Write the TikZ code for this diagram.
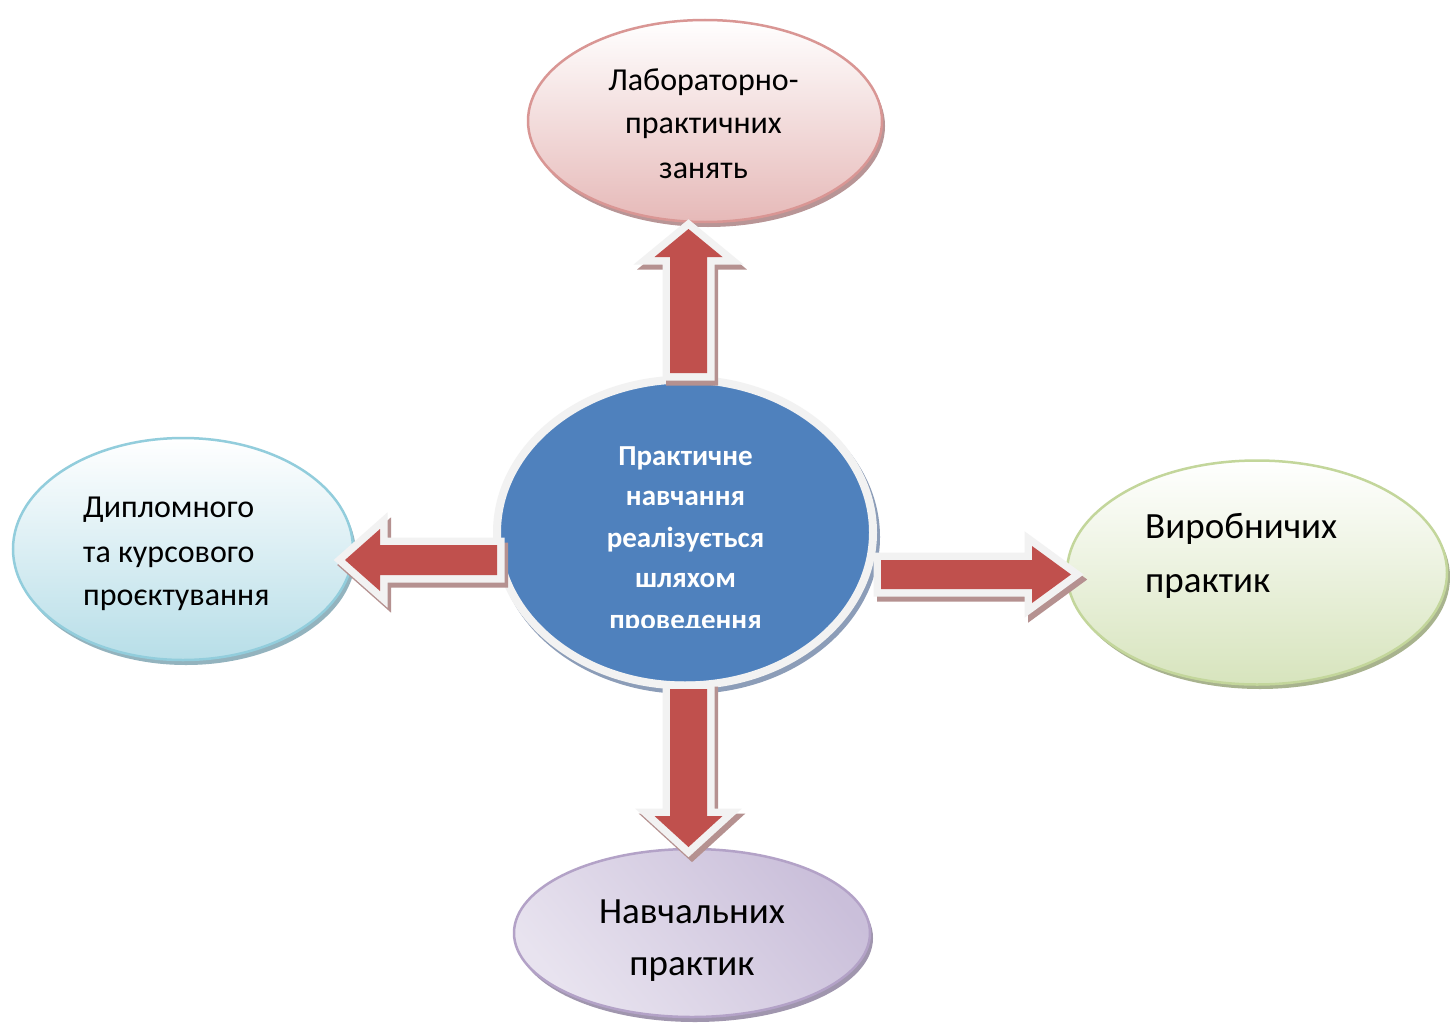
\documentclass[tikz,border=0pt]{standalone}
\usepackage{fontspec}
\setmainfont{Carlito}
\usetikzlibrary{calc,shapes.geometric}
\definecolor{arrred}{HTML}{C0504D}
\definecolor{arrwhite}{HTML}{F2F2F2}
\definecolor{arrshadow}{HTML}{B59190}
\definecolor{cblue}{HTML}{4F81BD}
\definecolor{cshadow}{HTML}{8C9DB8}
\definecolor{pinkline}{HTML}{D99694}
\definecolor{pinkfill}{HTML}{E6B9B8}
\definecolor{pinkshadow}{HTML}{B89596}
\definecolor{blueline}{HTML}{92CDDC}
\definecolor{bluefill}{HTML}{B7DEE8}
\definecolor{blueshadow}{HTML}{93B3BE}
\definecolor{greenline}{HTML}{C3D69B}
\definecolor{greenfill}{HTML}{D7E4BD}
\definecolor{greenshadow}{HTML}{A8B38E}
\definecolor{purpline}{HTML}{B3A2C7}
\definecolor{purpdark}{HTML}{CABFDA}
\definecolor{purplight}{HTML}{E8E3EF}
\definecolor{purpshadow}{HTML}{A096AE}
\tikzset{
  bub/.style={ellipse, inner sep=0pt, line width=2.5pt},
  arrshad/.style={draw=arrshadow, fill=arrshadow, line width=15pt, line join=miter},
  arrline/.style={draw=arrwhite, fill=arrwhite, line width=15pt, line join=miter},
  arrfill/.style={fill=arrred},
  txtA/.style={inner sep=0pt, font=\fontsize{32pt}{44pt}\selectfont},
  txtB/.style={inner sep=0pt, font=\fontsize{37pt}{52pt}\selectfont},
  txtC/.style={inner sep=0pt, text=white, font=\bfseries\fontsize{29pt}{40pt}\selectfont},
}
\newcommand\arrshape[5]{($(#1)!#3pt!90:(#2)$) -- ($(#1-h)!#3pt!90:(#2)$) -- ($(#1-h)!#4pt!90:(#2)$) -- (#2) -- ($(#1-h)!#4pt!-90:(#2)$) -- ($(#1-h)!#3pt!-90:(#2)$) -- ($(#1)!#3pt!-90:(#2)$) -- cycle}
\begin{document}
\begin{tikzpicture}[x=1pt,y=-1pt]
\useasboundingbox (0,0) rectangle (1450,1025);
\fill[white] (0,0) rectangle (1450,1025);

% shadows of bubbles
\fill[pinkshadow] (708,126) ellipse [x radius=177, y radius=101];
\fill[blueshadow] (186,554) ellipse [x radius=170, y radius=111];
\fill[greenshadow] (1260,577) ellipse [x radius=190, y radius=112];
\fill[purpshadow] (695,938) ellipse [x radius=178, y radius=84];
\fill[cshadow] (688,537) ellipse [x radius=192, y radius=157];

% bubbles
\node[bub, draw=pinkline, top color=white, bottom color=pinkfill,
      minimum width=354pt, minimum height=202pt] (lab) at (705,121) {};
\node[bub, draw=blueline, top color=white, bottom color=bluefill,
      minimum width=340pt, minimum height=222pt] (dip) at (183,549) {};
\node[bub, draw=greenline, top color=white, bottom color=greenfill,
      minimum width=380pt, minimum height=224pt] (vyr) at (1257,572.5) {};
\node[bub, draw=purpline, top color=purpdark, bottom color=purplight, shading angle=-50,
      minimum width=356pt, minimum height=168pt] (nav) at (692,933) {};
\node[ellipse, inner sep=0pt, line width=8pt, draw=arrwhite, fill=cblue,
      minimum width=376pt, minimum height=306pt] (ctr) at (685,532.5) {};

% texts
\node[txtA, anchor=base] (lab1) at (703.5,90) {Лабораторно-};
\node[txtA, anchor=base] (lab2) at (703.5,133) {практичних};
\node[txtA, anchor=base] (lab3) at (703.5,178) {занять};
\node[txtA, anchor=base west] (dip1) at (83,517) {Дипломного};
\node[txtA, anchor=base west] (dip2) at (83,562) {та курсового};
\node[txtA, anchor=base west] (dip3) at (83,605) {проєктування};
\node[txtB, anchor=base west] (vyr1) at (1145,538) {Виробничих};
\node[txtB, anchor=base west] (vyr2) at (1145,592) {практик};
\node[txtB, anchor=base] (nav1) at (692,923) {Навчальних};
\node[txtB, anchor=base] (nav2) at (692,975) {практик};
\begin{scope}
\clip (540,420) rectangle (830,627);
\node[txtC, anchor=base] (c1) at (685.5,465) {Практичне};
\node[txtC, anchor=base] (c2) at (685.5,505) {навчання};
\node[txtC, anchor=base] (c3) at (685.5,547) {реалізується};
\node[txtC, anchor=base] (c4) at (685.5,587) {шляхом};
\node[txtC, anchor=base] (c5) at (685.5,629) {проведення};
\end{scope}

% arrows
\coordinate (uA) at (688.5,373); \coordinate (uB) at (688.5,229);
\coordinate (lA) at (497,560);   \coordinate (lB) at (345,560);
\coordinate (rA) at (881,574.5); \coordinate (rB) at (1071,574.5);
\coordinate (dA) at (688.5,689); \coordinate (dB) at (688.5,847);
\coordinate (uA-h) at ($(uB)!28pt!(uA)$);
\coordinate (lA-h) at ($(lB)!35pt!(lA)$);
\coordinate (rA-h) at ($(rB)!39pt!(rA)$);
\coordinate (dA-h) at ($(dB)!31pt!(dA)$);
\begin{scope}[transform canvas={shift={(3.5pt,-5pt)}}]
\draw[arrshad] \arrshape{uA}{uB}{18.5}{34}{28};
\draw[arrshad] \arrshape{lA}{lB}{15}{31}{35};
\draw[arrshad] \arrshape{rA}{rB}{14.5}{28.5}{39};
\draw[arrshad] \arrshape{dA}{dB}{18.5}{34}{31};
\end{scope}
\draw[arrline] \arrshape{uA}{uB}{18.5}{34}{28};
\draw[arrline] \arrshape{lA}{lB}{15}{31}{35};
\draw[arrline] \arrshape{rA}{rB}{14.5}{28.5}{39};
\draw[arrline] \arrshape{dA}{dB}{18.5}{34}{31};
\fill[arrfill] \arrshape{uA}{uB}{18.5}{34}{28};
\fill[arrfill] \arrshape{lA}{lB}{15}{31}{35};
\fill[arrfill] \arrshape{rA}{rB}{14.5}{28.5}{39};
\fill[arrfill] \arrshape{dA}{dB}{18.5}{34}{31};
\end{tikzpicture}
\end{document}
